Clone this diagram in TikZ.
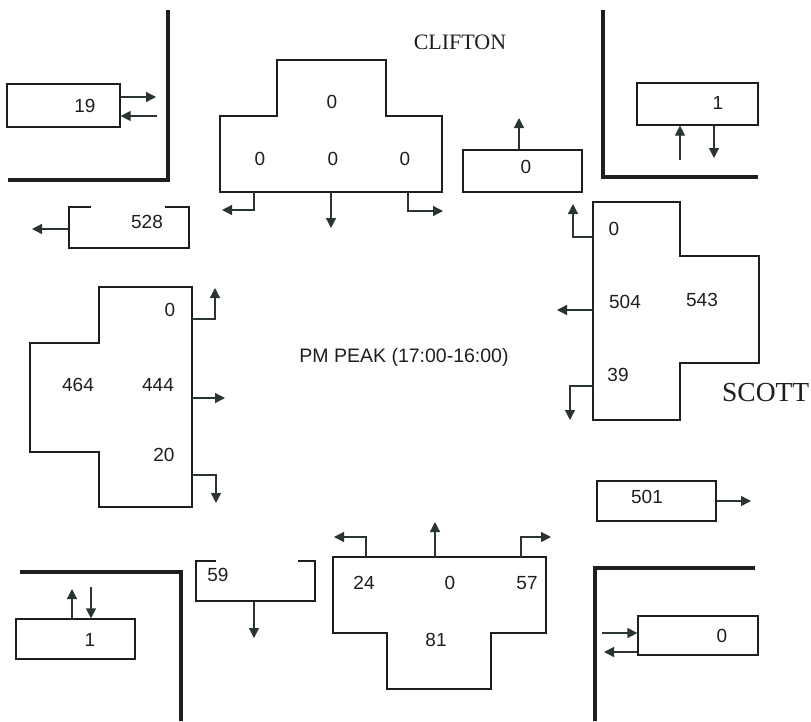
\documentclass[tikz,border=0pt]{standalone}
\usepackage{fontspec}
\setmainfont{Liberation Serif}
\newfontfamily\numfont{Liberation Sans}
\usetikzlibrary{arrows.meta,calc}
\definecolor{ink}{HTML}{1E1E1E}
\definecolor{arrowink}{HTML}{2A3530}
\begin{document}
\begin{tikzpicture}[x=1pt,y=-1pt,
  outline/.style={line width=1.3pt, draw=ink},
  wall/.style={line width=3.2pt, draw=ink},
  box/.style={draw=ink, line width=1.3pt, rectangle, inner sep=0pt},
  num/.style={font=\numfont\fontsize{19}{19}\selectfont, text=ink, inner sep=0pt},
  arr/.style={line width=1.3pt, draw=arrowink, -{Triangle[length=10pt,width=10pt]}},
  street/.style={font=\fontsize{22}{22}\selectfont, text=ink, inner sep=0pt},
  title/.style={font=\numfont\fontsize{19.5}{19.5}\selectfont, text=ink, inner sep=0pt}]
\useasboundingbox (0,0) rectangle (811,721);

% ---------- corner walls ----------
\draw[wall] (168,10) -- (168,180) -- (8,180);
\draw[wall] (603,10) -- (603,177) -- (758,177);
\draw[wall] (20,572) -- (181,572) -- (181,721);
\draw[wall] (755,568) -- (595,568) -- (595,721);

% ---------- street names ----------
\node[street] (clifton) at (460,42) {CLIFTON};
\node[street, font=\fontsize{27.5}{27.5}\selectfont, anchor=west] (scott) at (722,393) {SCOTT};
\node[title] (peak) at (404,357) {PM PEAK (17:00-16:00)};

% ---------- top-left ----------
\node[box, minimum width=113pt, minimum height=43pt] (b19) at (63.5,105.5) {};
\node[num] (t19) at (85,106) {19};
\draw[arr] (b19.east |- 0,97) -- (156,97);
\draw[arr] (157,116) -- (b19.east |- 0,116);

\draw[outline] (91,207) -- (69,207) -- (69,248) -- (189,248) -- (189,207) -- (165,207);
\coordinate (b528w) at (69,229);
\node[num] (t528) at (147,222) {528};
\draw[arr] (b528w) -- (32,229);

% ---------- top approach (Clifton) ----------
\draw[outline] (277,60) -- (386,60) -- (386,116) -- (442,116) -- (442,192)
  -- (220,192) -- (220,116) -- (277,116) -- cycle;
\node[num] (n1) at (332,102) {0};
\node[num] (n2) at (260,159) {0};
\node[num] (n3) at (333,159) {0};
\node[num] (n4) at (405,159) {0};
\draw[arr] (254,192) -- (254,210) -- (222,210);
\draw[arr] (331,192) -- (331,228);
\draw[arr] (408,192) -- (408,211) -- (443,211);

% ---------- top-right ----------
\node[box, minimum width=121pt, minimum height=42pt] (b1tr) at (697.5,104) {};
\node[num] (t1tr) at (718,103) {1};
\draw[arr] (680,160) -- (b1tr.south -| 680,0);
\draw[arr] (b1tr.south -| 714,0) -- (714,158);

\node[box, minimum width=119pt, minimum height=42pt] (b0top) at (522.5,171) {};
\node[num] (t0top) at (526,167) {0};
\draw[arr] (b0top.north -| 519,0) -- (519,118);

% ---------- right approach (Scott) ----------
\draw[outline] (593,202) -- (680,202) -- (680,256) -- (759,256) -- (759,363)
  -- (680,363) -- (680,420) -- (593,420) -- cycle;
\node[num] (e1) at (614,229) {0};
\node[num] (e2) at (625,302) {504};
\node[num] (e3) at (702,300) {543};
\node[num] (e4) at (618,375) {39};
\draw[arr] (593,237) -- (573,237) -- (573,204);
\draw[arr] (593,310) -- (557,310);
\draw[arr] (593,386) -- (570,386) -- (570,420);

\node[box, minimum width=119pt, minimum height=40pt] (b501) at (656.5,501) {};
\node[num] (t501) at (647,497) {501};
\draw[arr] (b501.east) -- (751,501);

% ---------- bottom-right ----------
\node[box, minimum width=120pt, minimum height=39pt] (b0br) at (698,635.5) {};
\node[num] (t0br) at (722,636) {0};
\draw[arr] (602,633) -- (b0br.west |- 0,633);
\draw[arr] (b0br.west |- 0,652) -- (604,652);

% ---------- bottom approach ----------
\draw[outline] (333,557) -- (546,557) -- (546,633) -- (491,633) -- (491,689)
  -- (387,689) -- (387,633) -- (333,633) -- cycle;
\node[num] (s1) at (364,583) {24};
\node[num] (s2) at (450,583) {0};
\node[num] (s3) at (527,583) {57};
\node[num] (s4) at (436,640) {81};
\draw[arr] (366,557) -- (366,537) -- (334,537);
\draw[arr] (435,557) -- (435,522);
\draw[arr] (521,557) -- (521,537) -- (551,537);

\draw[outline] (216,561) -- (196,561) -- (196,601) -- (315,601) -- (315,561) -- (298,561);
\coordinate (b59s) at (254,601);
\node[num] (t59) at (218,575) {59};
\draw[arr] (b59s) -- (254,638);

% ---------- bottom-left ----------
\node[box, minimum width=119pt, minimum height=40pt] (b1bl) at (75.5,639) {};
\node[num] (t1bl) at (90,640) {1};
\draw[arr] (b1bl.north -| 72,0) -- (72,589);
\draw[arr] (91,587) -- (b1bl.north -| 91,0);

% ---------- left approach ----------
\draw[outline] (99,287) -- (192,287) -- (192,507) -- (99,507) -- (99,452)
  -- (30,452) -- (30,343) -- (99,343) -- cycle;
\node[num] (w1) at (170,310) {0};
\node[num] (w2) at (78,385) {464};
\node[num] (w3) at (158,385) {444};
\node[num] (w4) at (164,455) {20};
\draw[arr] (192,319) -- (215,319) -- (215,288);
\draw[arr] (192,398) -- (225,398);
\draw[arr] (192,475) -- (216,475) -- (216,503);
\end{tikzpicture}
\end{document}
